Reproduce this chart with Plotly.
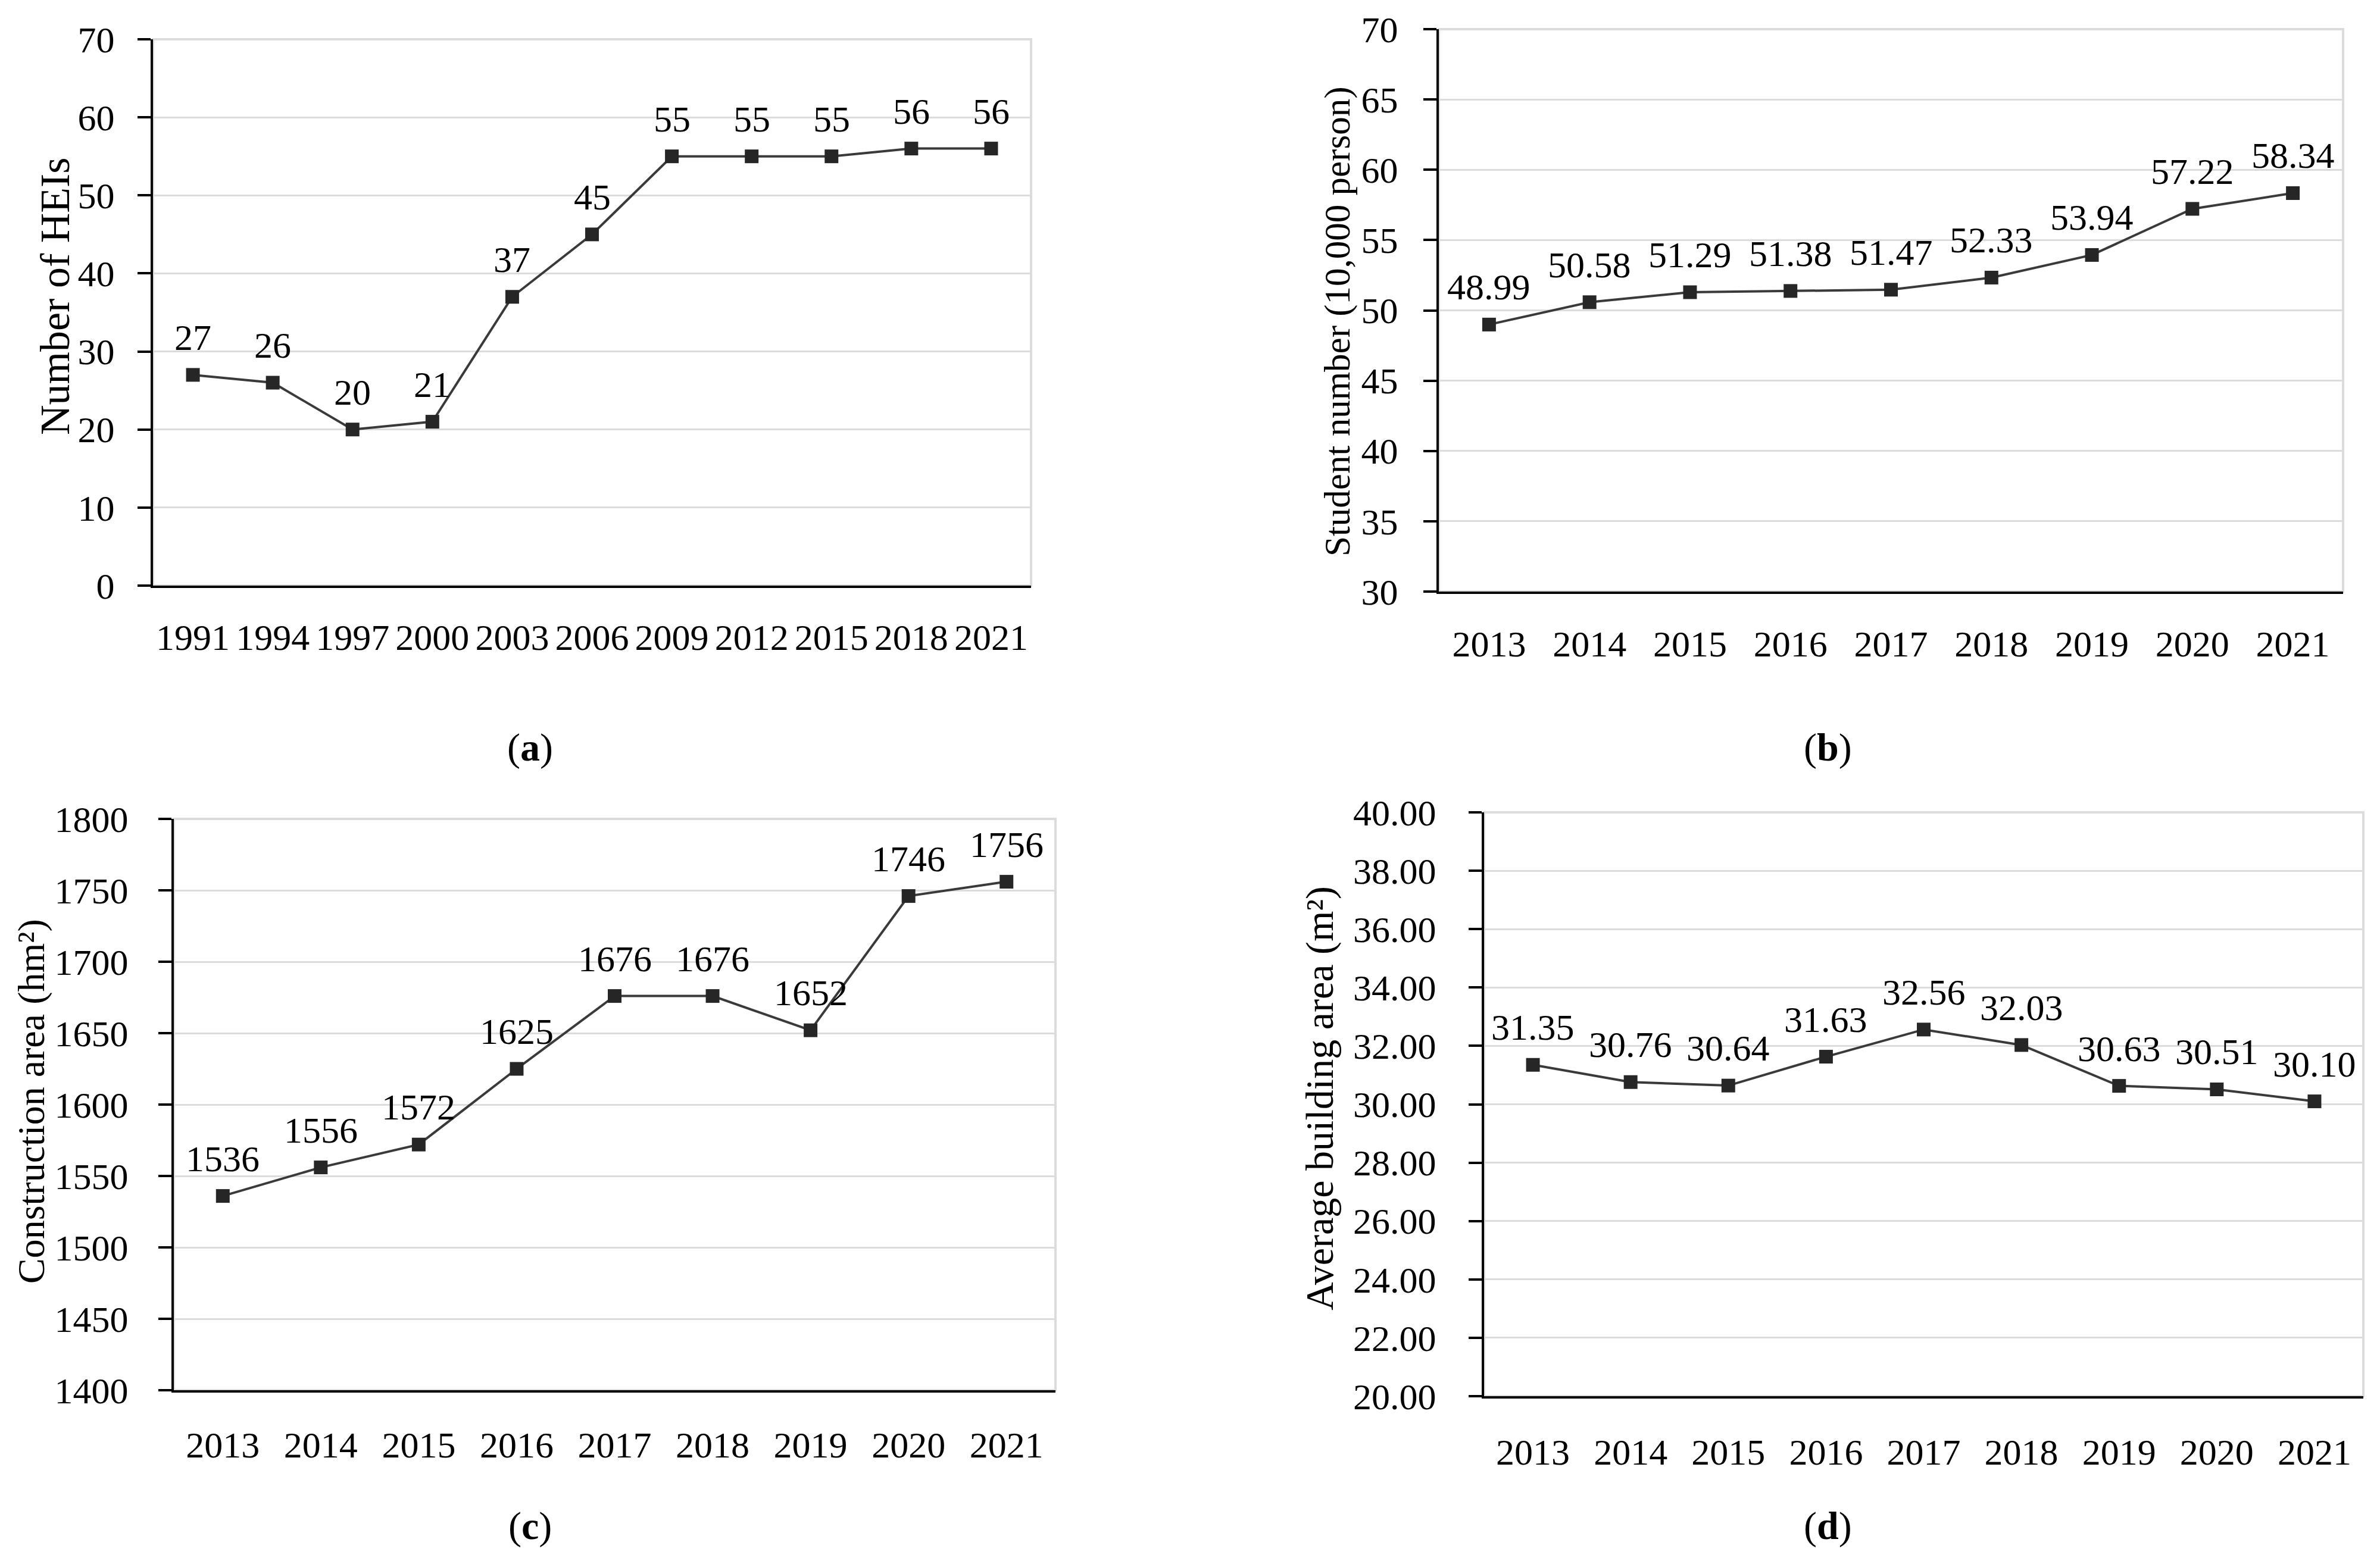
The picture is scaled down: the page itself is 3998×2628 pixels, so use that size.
import plotly.graph_objects as go

# ---------------- data ----------------
years_a = ["1991", "1994", "1997", "2000", "2003", "2006", "2009", "2012", "2015", "2018", "2021"]
heis = [27, 26, 20, 21, 37, 45, 55, 55, 55, 56, 56]

years_bcd = ["2013", "2014", "2015", "2016", "2017", "2018", "2019", "2020", "2021"]
students = [48.99, 50.58, 51.29, 51.38, 51.47, 52.33, 53.94, 57.22, 58.34]
construction = [1536, 1556, 1572, 1625, 1676, 1676, 1652, 1746, 1756]
avg_building = [31.35, 30.76, 30.64, 31.63, 32.56, 32.03, 30.63, 30.51, 30.10]

titles = ["Number of HEIs", "Student number (10,000 person)",
          "Construction area (hm²)", "Average building area (m²)"]
panel_labels = ["(<b>a</b>)", "(<b>b</b>)", "(<b>c</b>)", "(<b>d</b>)"]

# ---------------- layout geometry ----------------
W, H = 3998, 2628
FONT = "Liberation Serif"
TICK_SIZE = 62
title_sizes = [70, 61, 64, 66]

def px_x(p):
    return p / W

def px_y(p):
    return 1 - p / H

# (left, right, top, bottom) in pixels
boxes = [
    (257, 1732, 66, 984),
    (2417, 3936, 49, 994),
    (292, 1773, 1376, 2336),
    (2493, 3970, 1365, 2346),
]
yranges = [(0, 70, 10), (30, 70, 5), (1400, 1800, 50), (20, 40, 2)]
yfmts = ["d", "d", "d", ".2f"]
label_fmt = ["{:d}", "{:.2f}", "{:d}", "{:.2f}"]
ytick_standoff = [26, 30, 38, 42]
xtick_standoff = [30, 31, 35, 37]
title_pos = [(92, 498), (2247, 540), (52, 1851), (2217, 1846)]
panel_pos = [(890, 1256), (3070, 1256), (890, 2564), (3070, 2564)]

series = [(years_a, heis), (years_bcd, students), (years_bcd, construction), (years_bcd, avg_building)]

fig = go.Figure()
layout = dict(
    width=W, height=H,
    margin=dict(l=0, r=0, t=0, b=0, pad=0, autoexpand=False),
    paper_bgcolor="white", plot_bgcolor="white",
    showlegend=False,
    font=dict(family=FONT, size=TICK_SIZE, color="black"),
)
annotations = []
shapes = []

for i, ((cats, vals), box) in enumerate(zip(series, boxes)):
    sfx = "" if i == 0 else str(i + 1)
    l, r, t, b = box
    y0, y1, dt = yranges[i]
    fig.add_trace(go.Scatter(
        x=cats, y=vals, mode="lines+markers",
        line=dict(color="#3a3a3a", width=4),
        marker=dict(symbol="square", size=23, color="#262626"),
        xaxis="x" + sfx, yaxis="y" + sfx, cliponaxis=False,
        hoverinfo="skip",
    ))
    layout["xaxis" + sfx] = dict(
        domain=[px_x(l), px_x(r)], anchor="y" + sfx,
        type="category", categoryorder="array", categoryarray=cats,
        range=[-0.5, len(cats) - 0.5], automargin=False,
        showline=True, linecolor="black", linewidth=4,
        ticks="", showgrid=False, zeroline=False,
        tickfont=dict(family=FONT, size=TICK_SIZE, color="black"),
        ticklabelstandoff=xtick_standoff[i],
    )
    layout["yaxis" + sfx] = dict(
        domain=[px_y(b), px_y(t)], anchor="x" + sfx,
        range=[y0, y1], dtick=dt, tick0=y0, tickformat=yfmts[i],
        automargin=False,
        showline=True, linecolor="black", linewidth=4,
        ticks="outside", ticklen=22, tickwidth=4, tickcolor="black",
        showgrid=True, gridcolor="#dcdcdc", gridwidth=3, zeroline=False,
        tickfont=dict(family=FONT, size=TICK_SIZE, color="black"),
        ticklabelstandoff=ytick_standoff[i],
    )
    shapes.append(dict(
        type="rect", xref="x" + sfx + " domain", yref="y" + sfx + " domain",
        x0=0, x1=1, y0=0, y1=1, line=dict(color="#dcdcdc", width=4), layer="below",
    ))
    # data labels: category axis positions are the category indices
    for k, v in enumerate(vals):
        annotations.append(dict(
            x=k, y=v, xref="x" + sfx, yref="y" + sfx,
            text=label_fmt[i].format(v), showarrow=False,
            yanchor="middle", xanchor="center", yshift=63,
            font=dict(family=FONT, size=TICK_SIZE, color="black"),
        ))
    tx, ty = title_pos[i]
    annotations.append(dict(
        x=px_x(tx), y=px_y(ty), xref="paper", yref="paper",
        text=titles[i], showarrow=False, textangle=-90,
        xanchor="center", yanchor="middle",
        font=dict(family=FONT, size=title_sizes[i], color="black"),
    ))
    lx, ly = panel_pos[i]
    annotations.append(dict(
        x=px_x(lx), y=px_y(ly), xref="paper", yref="paper",
        text=panel_labels[i], showarrow=False,
        xanchor="center", yanchor="middle",
        font=dict(family=FONT, size=66, color="black"),
    ))

layout["annotations"] = annotations
layout["shapes"] = shapes
fig.update_layout(**layout)
fig.write_html("out.html", config={"displayModeBar": False},
               post_script="document.body.style.margin='0';")
